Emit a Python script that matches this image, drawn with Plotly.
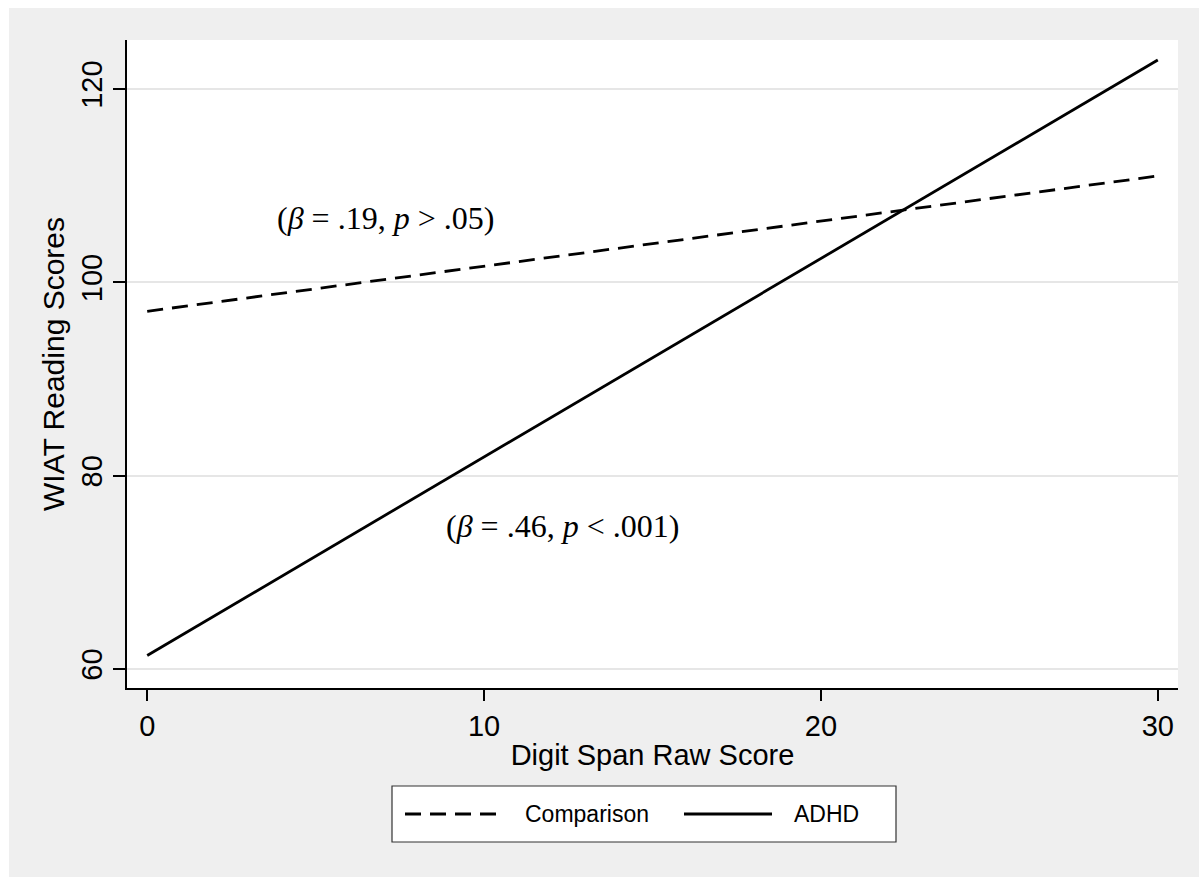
import plotly.graph_objects as go

# Fitted regression lines: WIAT reading score vs. digit span raw score
digit_span = [0, 30]
comparison_scores = [97.0, 111.0]
adhd_scores = [61.4, 123.0]

group_names = ["Comparison", "ADHD"]
x_ticks = [0, 10, 20, 30]
y_ticks = [60, 80, 100, 120]

W, H = 1199, 877
ML, MR, MT, MB = 127, 21, 40, 189
PW, PH = W - ML - MR, H - MT - MB


def px(x):
    return (x - ML) / PW


def py(y):
    return (H - MB - y) / PH


BG = "#efefef"
SANS = "Liberation Sans, Arial, sans-serif"
SERIF = "Liberation Serif, Times New Roman, serif"

fig = go.Figure()
fig.add_trace(go.Scatter(
    x=digit_span, y=comparison_scores, mode="lines", name=group_names[0],
    line=dict(color="black", width=2.8, dash="16px,9px"), showlegend=False,
))
fig.add_trace(go.Scatter(
    x=digit_span, y=adhd_scores, mode="lines", name=group_names[1],
    line=dict(color="black", width=2.8), showlegend=False,
))

shapes = [
    # white margin strips at the top and left of the page
    dict(type="rect", xref="paper", yref="paper", x0=px(0), x1=px(9),
         y0=py(0), y1=py(H), fillcolor="white", line=dict(width=0), layer="below"),
    dict(type="rect", xref="paper", yref="paper", x0=px(0), x1=px(W),
         y0=py(0), y1=py(8), fillcolor="white", line=dict(width=0), layer="below"),
    # legend box
    dict(type="rect", xref="paper", yref="paper", x0=px(392), x1=px(896),
         y0=py(786), y1=py(842), fillcolor="white", line=dict(color="#333333", width=1.2)),
    # legend samples
    dict(type="line", xref="paper", yref="paper", x0=px(405), x1=px(498),
         y0=py(814), y1=py(814), line=dict(color="black", width=2.8, dash="16px,9px")),
    dict(type="line", xref="paper", yref="paper", x0=px(684), x1=px(772),
         y0=py(814), y1=py(814), line=dict(color="black", width=2.8)),
]

annotations = [
    dict(x=7.08, y=106.7, xref="x", yref="y", showarrow=False,
         text="(<i>β</i> = .19, <i>p</i> > .05)",
         font=dict(family=SERIF, size=32, color="black")),
    dict(x=12.33, y=74.8, xref="x", yref="y", showarrow=False,
         text="(<i>β</i> = .46, <i>p</i> < .001)",
         font=dict(family=SERIF, size=32, color="black")),
    dict(x=px(523), y=py(814), xref="paper", yref="paper", showarrow=False,
         xanchor="left", yanchor="middle", text=group_names[0],
         font=dict(family=SANS, size=23, color="black")),
    dict(x=px(792), y=py(814), xref="paper", yref="paper", showarrow=False,
         xanchor="left", yanchor="middle", text=group_names[1],
         font=dict(family=SANS, size=23, color="black")),
]

fig.update_layout(
    width=W, height=H,
    margin=dict(l=ML, r=MR, t=MT, b=MB),
    paper_bgcolor=BG, plot_bgcolor="white",
    shapes=shapes, annotations=annotations,
    font=dict(family=SANS, color="black"),
    xaxis=dict(
        range=[-0.6, 30.6], tickvals=x_ticks, ticks="outside", ticklen=11,
        tickwidth=1.5, tickcolor="black", showline=True, linecolor="black",
        linewidth=1.5, showgrid=False, zeroline=False,
        tickfont=dict(family=SANS, size=29, color="black"),
        title=dict(text="Digit Span Raw Score", standoff=4,
                   font=dict(family=SANS, size=29, color="black")),
    ),
    yaxis=dict(
        range=[58.03, 125.07], tickvals=y_ticks, ticks="outside", ticklen=12,
        tickwidth=1.5, tickcolor="black", showline=True, linecolor="black",
        linewidth=1.5, showgrid=True, gridcolor="#e6e6e6", gridwidth=1.6,
        zeroline=False, tickangle=-90,
        tickfont=dict(family=SANS, size=29, color="black"),
        title=dict(text="WIAT Reading Scores", standoff=2,
                   font=dict(family=SANS, size=30, color="black")),
    ),
)

fig.write_html("out.html")
